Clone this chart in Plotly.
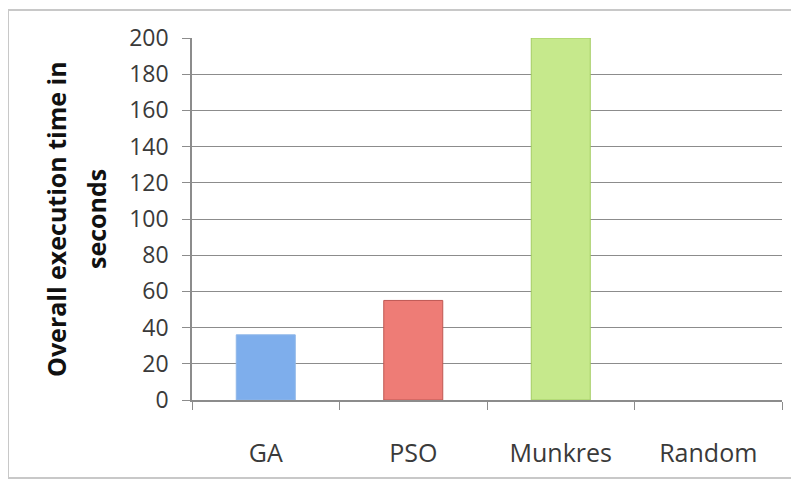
import plotly.graph_objects as go

categories = ["GA", "PSO", "Munkres", "Random"]
values = [36, 55, 200, 0]
bar_colors = ["#7eaeec", "#ee7c76", "#c6e98c", "rgba(0,0,0,0)"]
line_colors = ["#8fb6e8", "#bf5752", "#a2cc62", "rgba(0,0,0,0)"]
y_ticks = list(range(0, 201, 20))
title_lines = ["Overall execution time in", "seconds"]

fig = go.Figure()
fig.add_trace(go.Bar(
    x=categories, y=values, width=0.4,
    marker=dict(color=bar_colors, line=dict(color=line_colors, width=1)),
))

# figure is placed at (8,8) on the page by the body margin
W, H = 799, 484
L, R, T, B = 184, 25, 30, 92
pw, ph = W - L - R, H - T - B

fig.update_layout(
    width=W, height=H,
    margin=dict(l=L, r=R, t=T, b=B),
    paper_bgcolor="white", plot_bgcolor="white",
    showlegend=False,
    font=dict(family="Open Sans, Liberation Sans, sans-serif", color="#3a3a3a"),
)
fig.update_yaxes(
    range=[0, 200], tickvals=y_ticks,
    showgrid=True, gridcolor="#8c8c8c", gridwidth=1.3,
    showline=True, linecolor="#8c8c8c", linewidth=1.5,
    ticks="outside", ticklen=8, tickcolor="#8c8c8c",
    tickfont=dict(size=23, color="#3a3a3a"),
    ticklabelstandoff=9,
    zeroline=False,
)
fig.update_xaxes(
    showline=True, linecolor="#8c8c8c", linewidth=1.5,
    ticks="outside", ticklen=8, tickcolor="#8c8c8c", tickson="boundaries",
    tickfont=dict(size=25, color="#3a3a3a"),
    ticklabelstandoff=30,
)
# two-line y-axis title, placed by page pixel (minus 8px body offset)
for txt, px in zip(title_lines, [56 - 8, 96 - 8]):
    fig.add_annotation(
        text="<b>%s</b>" % txt, textangle=-90, showarrow=False,
        xref="paper", yref="paper",
        x=(px - L) / pw, y=0.5, xanchor="center", yanchor="middle",
        font=dict(size=25, color="#111111"),
    )
fig.add_shape(type="rect", xref="paper", yref="paper",
              x0=(0 - L) / pw, x1=(789 - L) / pw,
              y0=-(470 - (T + ph)) / ph, y1=(T + ph - 2) / ph,
              line=dict(color="#c8c8c8", width=2), layer="above")

fig.write_html("out.html")
